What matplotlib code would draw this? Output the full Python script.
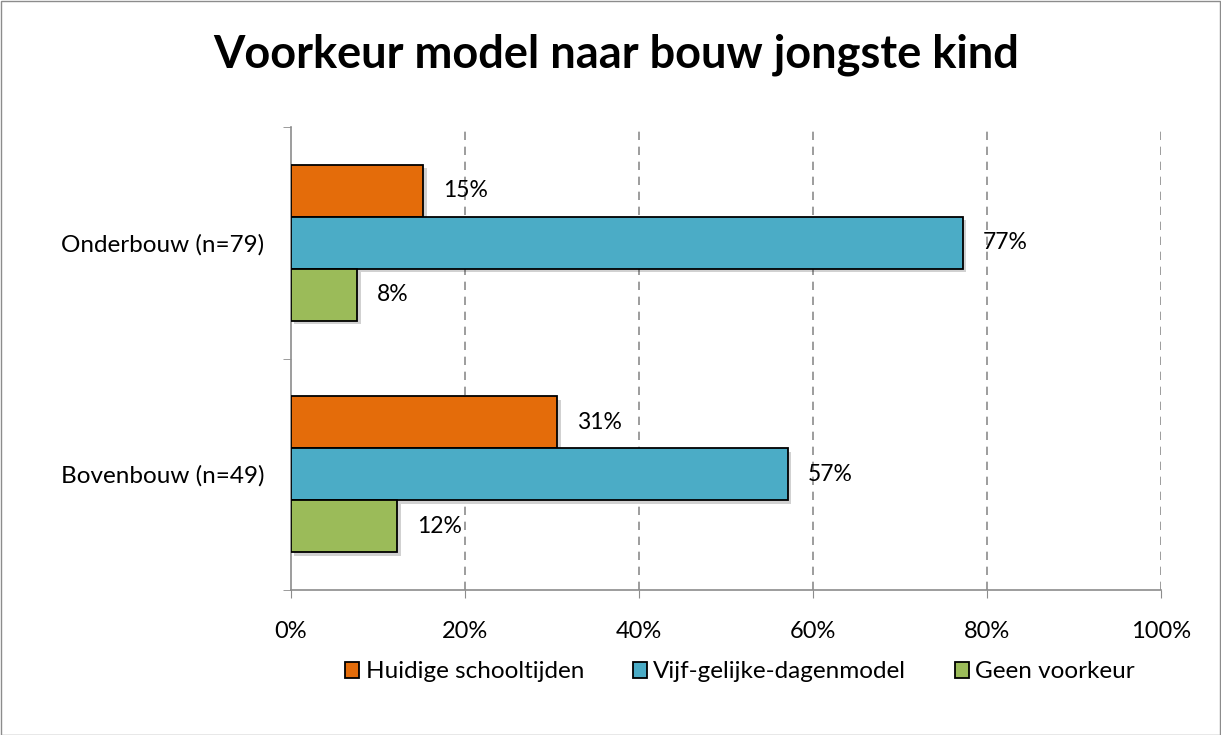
import matplotlib
matplotlib.use("Agg")
import matplotlib.pyplot as plt
import matplotlib.patheffects as pe
from matplotlib.patches import Rectangle
import numpy as np

categories = ["Onderbouw (n=79)", "Bovenbouw (n=49)"]
series = ["Huidige schooltijden", "Vijf-gelijke-dagenmodel", "Geen voorkeur"]
values = {
    "Huidige schooltijden": [15.2, 30.6],
    "Vijf-gelijke-dagenmodel": [77.2, 57.1],
    "Geen voorkeur": [7.6, 12.2],
}
colors = ["#E46C0A", "#4BACC6", "#9BBB59"]
xticks = [0, 20, 40, 60, 80, 100]
xticklabels = ["0%", "20%", "40%", "60%", "80%", "100%"]

plt.rcParams['font.family'] = ['Lato', 'DejaVu Sans']

fig = plt.figure(figsize=(12.21, 7.35), dpi=100)
ax = fig.add_axes([291/1221, 1-590/735, (1161-291)/1221, (590-127)/735])

# outer border
fig.patches.append(Rectangle((0.5/1221, 0.5/735), 1-1.5/1221, 1-1.5/735, transform=fig.transFigure,
                             fill=False, edgecolor="#8C8C8C", linewidth=1))

bh = 0.225
y = np.arange(len(categories))
shadow = [pe.SimplePatchShadow(offset=(2.5, -2.5), shadow_rgbFace="#000000", alpha=0.18), pe.Normal()]
for i, s in enumerate(series):
    pos = y + (i - 1) * bh
    bars = ax.barh(pos, values[s], height=bh, color=colors[i], edgecolor="black",
                   linewidth=1.3, label=s, zorder=3)
    for b in bars:
        b.set_path_effects(shadow)
    for p, v in zip(pos, values[s]):
        ax.text(v + 2.3, p, f"{round(v):d}%", va="center", ha="left", fontsize=16.5,
                zorder=4)

ax.set_xlim(0, 100)
ax.set_ylim(1.5, -0.5)
ax.set_xticks(xticks)
ax.set_xticklabels(xticklabels, fontsize=17)
ax.set_yticks(y)
ax.set_yticklabels(categories, fontsize=17.5)
ax.set_yticks([-0.5, 0.5, 1.5], minor=True)
ax.tick_params(axis='y', which='major', length=0, pad=19)
ax.tick_params(axis='y', which='minor', length=6, color="#8C8C8C", direction='out')
ax.tick_params(axis='x', length=6, color="#8C8C8C", pad=16)
for sp in ["top", "right"]:
    ax.spines[sp].set_visible(False)
for sp in ["left", "bottom"]:
    ax.spines[sp].set_color("#8C8C8C")
    ax.spines[sp].set_linewidth(1.2)
ax.xaxis.grid(True, linestyle=(0, (5, 4)), color="#8C8C8C", linewidth=1.2, zorder=0)
ax.set_axisbelow(True)
gl = ax.get_xgridlines()
gl[0].set_visible(False)

fig.text(616/1221, 1-55/735, "Voorkeur model naar bouw jongste kind", ha="center", va="center",
         fontsize=32.5, fontweight="bold")

leg = fig.legend(loc="center", bbox_to_anchor=(740/1221, 1-672/735), ncol=3, frameon=False,
                 fontsize=17.5, handlelength=0.6, handleheight=0.6, handletextpad=0.25,
                 columnspacing=2.0)
for h in leg.legend_handles:
    h.set_path_effects([])

fig.savefig("out.png", dpi=100)
